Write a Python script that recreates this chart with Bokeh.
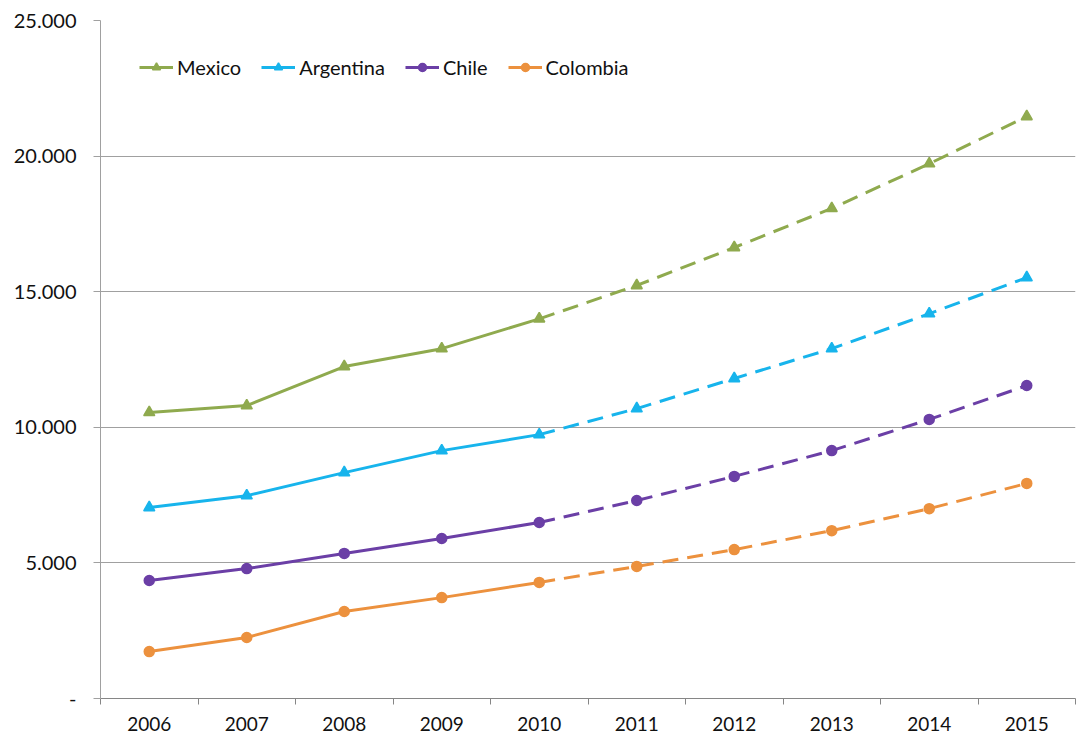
from bokeh.plotting import figure
from bokeh.models import FixedTicker, Range1d, Legend, LegendItem
from bokeh.embed import file_html
from bokeh.resources import INLINE

years = [2006, 2007, 2008, 2009, 2010, 2011, 2012, 2013, 2014, 2015]
mexico = [10550, 10800, 12240, 12900, 14000, 15230, 16630, 18070, 19720, 21460]
argentina = [7040, 7480, 8330, 9140, 9730, 10690, 11800, 12900, 14190, 15520]
chile = [4350, 4790, 5350, 5900, 6490, 7300, 8190, 9140, 10290, 11540]
colombia = [1730, 2250, 3210, 3720, 4280, 4870, 5490, 6190, 7000, 7930]
y_ticks = [0, 5000, 10000, 15000, 20000, 25000]
y_labels = ["-", "5.000", "10.000", "15.000", "20.000", "25.000"]
split_year = 2010

series = [
    ("Mexico", mexico, "#8FAA4E", "triangle"),
    ("Argentina", argentina, "#17B4EC", "triangle"),
    ("Chile", chile, "#6B3FA6", "circle"),
    ("Colombia", colombia, "#EC913E", "circle"),
]

FONT = "Lato"

p = figure(width=1076, height=736, output_backend="svg", toolbar_location=None,
           x_range=Range1d(years[0] - 0.5, years[-1] + 0.5),
           y_range=Range1d(0, 25000),
           min_border_left=100, min_border_top=20, min_border_right=1, min_border_bottom=38)
p.outline_line_color = None
p.background_fill_color = "white"

# x axis
p.xaxis.ticker = FixedTicker(ticks=years, minor_ticks=[y - 0.5 for y in years] + [years[-1] + 0.5])
p.xaxis.major_tick_out = 0
p.xaxis.major_tick_in = 0
p.xaxis.minor_tick_out = 6
p.xaxis.minor_tick_in = 0
p.xaxis.minor_tick_line_color = "#868686"
p.xaxis.axis_line_color = "#868686"
p.xaxis.major_label_text_font = FONT
p.xaxis.major_label_text_font_size = "19px"
p.xaxis.major_label_text_color = "#111111"
p.xaxis.major_label_standoff = 12
p.xgrid.grid_line_color = None

# y axis
p.yaxis.ticker = FixedTicker(ticks=y_ticks, minor_ticks=[])
p.yaxis.major_label_overrides = {t: l for t, l in zip(y_ticks, y_labels)}
p.yaxis.major_tick_out = 7
p.yaxis.major_tick_in = 0
p.yaxis.major_tick_line_color = "#a0a0a0"
p.yaxis.axis_line_color = "#a0a0a0"
p.yaxis.major_label_text_font = FONT
p.yaxis.major_label_text_font_size = "20px"
p.yaxis.major_label_text_color = "#111111"
p.yaxis.major_label_standoff = 17
p.ygrid.grid_line_color = "#a0a0a0"
p.ygrid.grid_line_width = 1

idx = years.index(split_year)
items = []
for name, vals, color, marker in series:
    solid = p.line(years[:idx + 1], vals[:idx + 1], line_color=color, line_width=3)
    p.line(years[idx:], vals[idx:], line_color=color, line_width=3, line_dash="16 9")
    sc = p.scatter(years, vals, marker=marker, size=11 if marker == "triangle" else 10,
                   fill_color=color, line_color=color, line_width=1.5)
    items.append(LegendItem(label=name, renderers=[solid, sc]))

legend = Legend(items=items, orientation="horizontal", location=(39, 619))
legend.background_fill_alpha = 0
legend.border_line_color = None
legend.padding = 0
legend.margin = 0
legend.spacing = 20
legend.glyph_width = 34
legend.glyph_height = 20
legend.label_height = 20
legend.label_standoff = 4
legend.label_text_font = FONT
legend.label_text_font_size = "20px"
legend.label_text_color = "#111111"
p.add_layout(legend, "center")

open("out.html", "w").write(file_html(p, INLINE))
